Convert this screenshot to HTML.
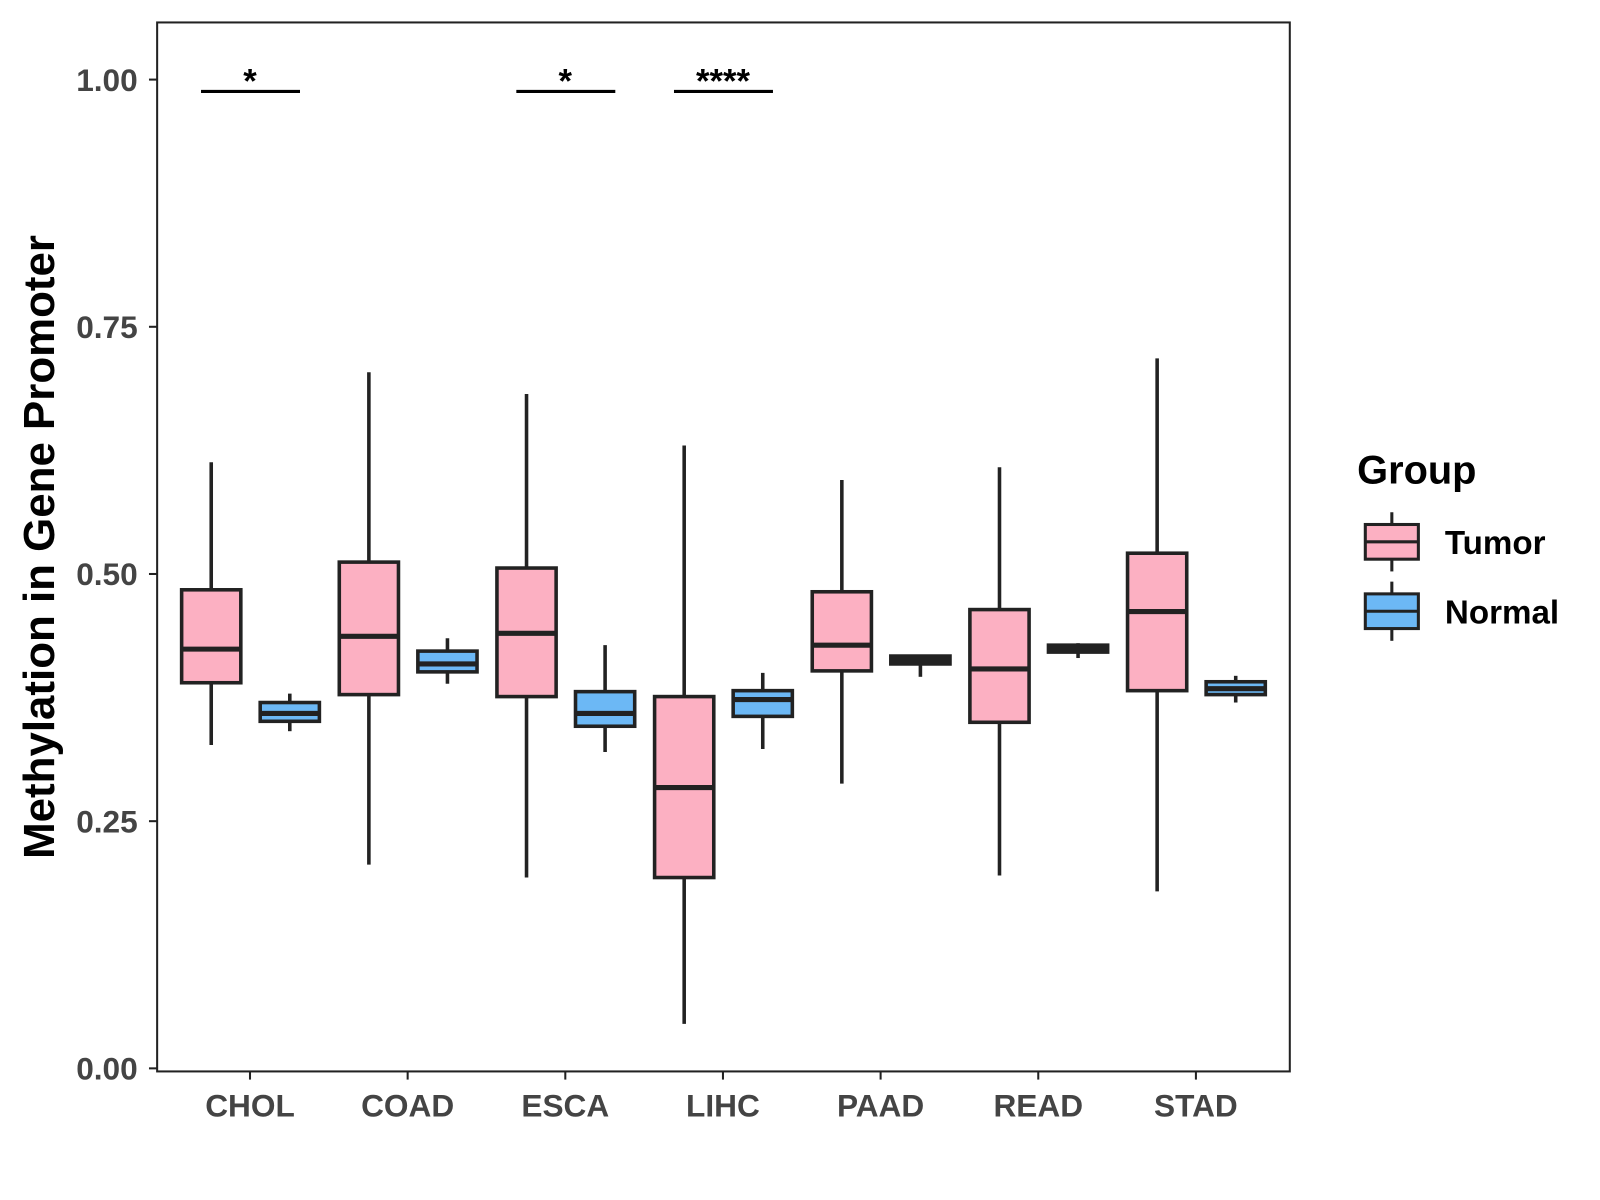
<!DOCTYPE html>
<html><head><meta charset="utf-8"><style>
body{margin:0;background:#fff}
svg{display:block}
svg text{font-family:"Liberation Sans",Arial,sans-serif;font-weight:bold}
</style></head><body>
<svg id="chart" width="1600" height="1200" viewBox="0 0 1568 1176" xmlns="http://www.w3.org/2000/svg">
<rect x="0" y="0" width="1568" height="1176" fill="#fff"/>
<rect x="154" y="22" width="1110" height="1028" fill="#fff" stroke="#222" stroke-width="2"/>
<g id="axes"></g>
<g id="boxes"></g>
<g id="sig"></g>
<text transform="translate(53,536) rotate(-90)" text-anchor="middle" font-size="43" fill="#000">Methylation in Gene Promoter</text>
<g>
<text x="1330" y="474" font-size="39" fill="#000">Group</text>
<g>
<line x1="1364" y1="502" x2="1364" y2="560" stroke="#222" stroke-width="3"/>
<rect x="1338" y="514" width="52" height="34" fill="#FCB0C2" stroke="#222" stroke-width="3"/>
<line x1="1338" y1="531" x2="1390" y2="531" stroke="#222" stroke-width="3"/>
<text x="1416" y="543" font-size="32.5" fill="#000">Tumor</text>
</g>
<g>
<line x1="1364" y1="570" x2="1364" y2="628" stroke="#222" stroke-width="3"/>
<rect x="1338" y="582" width="52" height="34" fill="#6CB8F5" stroke="#222" stroke-width="3"/>
<line x1="1338" y1="599" x2="1390" y2="599" stroke="#222" stroke-width="3"/>
<text x="1416" y="611" font-size="32.5" fill="#000">Normal</text>
</g>
</g>
</svg>
<script>
const categories = ["CHOL","COAD","ESCA","LIHC","PAAD","READ","STAD"];
const tumorMin = [0.327,0.206,0.193,0.045,0.288,0.195,0.179];
const tumorQ1  = [0.390,0.378,0.376,0.193,0.402,0.350,0.382];
const tumorMed = [0.424,0.437,0.440,0.284,0.428,0.404,0.462];
const tumorQ3  = [0.484,0.512,0.506,0.376,0.482,0.464,0.521];
const tumorMax = [0.613,0.704,0.682,0.630,0.595,0.608,0.718];
const normalMin = [0.341,0.389,0.320,0.323,0.396,0.415,0.370];
const normalQ1  = [0.351,0.401,0.346,0.356,0.409,0.421,0.378];
const normalMed = [0.359,0.409,0.359,0.373,0.413,0.425,0.384];
const normalQ3  = [0.370,0.422,0.381,0.382,0.417,0.428,0.391];
const normalMax = [0.379,0.435,0.428,0.400,0.418,0.430,0.397];
const yTicks = [0,0.25,0.5,0.75,1.0];
const yTickLabels = ["0.00","0.25","0.50","0.75","1.00"];
const sigCats = ["CHOL","ESCA","LIHC"];
const sigLabels = ["*","*","****"];
const sigLevel = [0.988,0.988,0.988];

const NS="http://www.w3.org/2000/svg";
const yS = v => 1047 - 969*v;
const xS = i => 245 + 154.5*i;
function mk(tag, attrs, parent){const e=document.createElementNS(NS,tag);for(const k in attrs)e.setAttribute(k,attrs[k]);parent.appendChild(e);return e;}
const axes=document.getElementById('axes'), boxes=document.getElementById('boxes'), sig=document.getElementById('sig');
yTicks.forEach((t,i)=>{
  const l=mk('line',{x1:146,x2:154,y1:yS(t),y2:yS(t),stroke:'#222','stroke-width':2},axes);
  
  
  const tx=mk('text',{x:135,y:yS(t)+11,'text-anchor':'end','font-size':31,fill:'#444'},axes);
  tx.textContent=yTickLabels[i];
  
  
});
categories.forEach((c,i)=>{
  const l=mk('line',{x1:xS(i),x2:xS(i),y1:1050,y2:1058,stroke:'#222','stroke-width':2},axes);
  
  
  const tx=mk('text',{x:xS(i),y:1094,'text-anchor':'middle','font-size':31,fill:'#444'},axes);
  tx.textContent=c;
  
  
});
function box(cx,mn,q1,md,q3,mx,fill,name){
  const g=mk('g',{},boxes);
  
  
  mk('line',{x1:cx,x2:cx,y1:yS(mx),y2:yS(mn),stroke:'#222','stroke-width':3.5},g);
  mk('rect',{x:cx-29,y:yS(q3),width:58,height:Math.max(yS(q1)-yS(q3),1),fill:fill,stroke:'#222','stroke-width':3.5},g);
  mk('line',{x1:cx-29,x2:cx+29,y1:yS(md),y2:yS(md),stroke:'#222','stroke-width':5},g);
}
categories.forEach((c,i)=>{
  box(xS(i)-38,tumorMin[i],tumorQ1[i],tumorMed[i],tumorQ3[i],tumorMax[i],'#FCB0C2','box-tumor-'+c.toLowerCase());
  box(xS(i)+39,normalMin[i],normalQ1[i],normalMed[i],normalQ3[i],normalMax[i],'#6CB8F5','box-normal-'+c.toLowerCase());
});
sigCats.forEach((c,k)=>{
  const i=categories.indexOf(c);
  const l=mk('line',{x1:xS(i)-48,x2:xS(i)+49,y1:yS(sigLevel[k]),y2:yS(sigLevel[k]),stroke:'#000','stroke-width':3},sig);
  
  
  const t=mk('text',{x:xS(i),y:yS(sigLevel[k])+1,'text-anchor':'middle','font-size':34,fill:'#000'},sig);
  t.textContent=sigLabels[k];
  
  
});
</script>
</body></html>
